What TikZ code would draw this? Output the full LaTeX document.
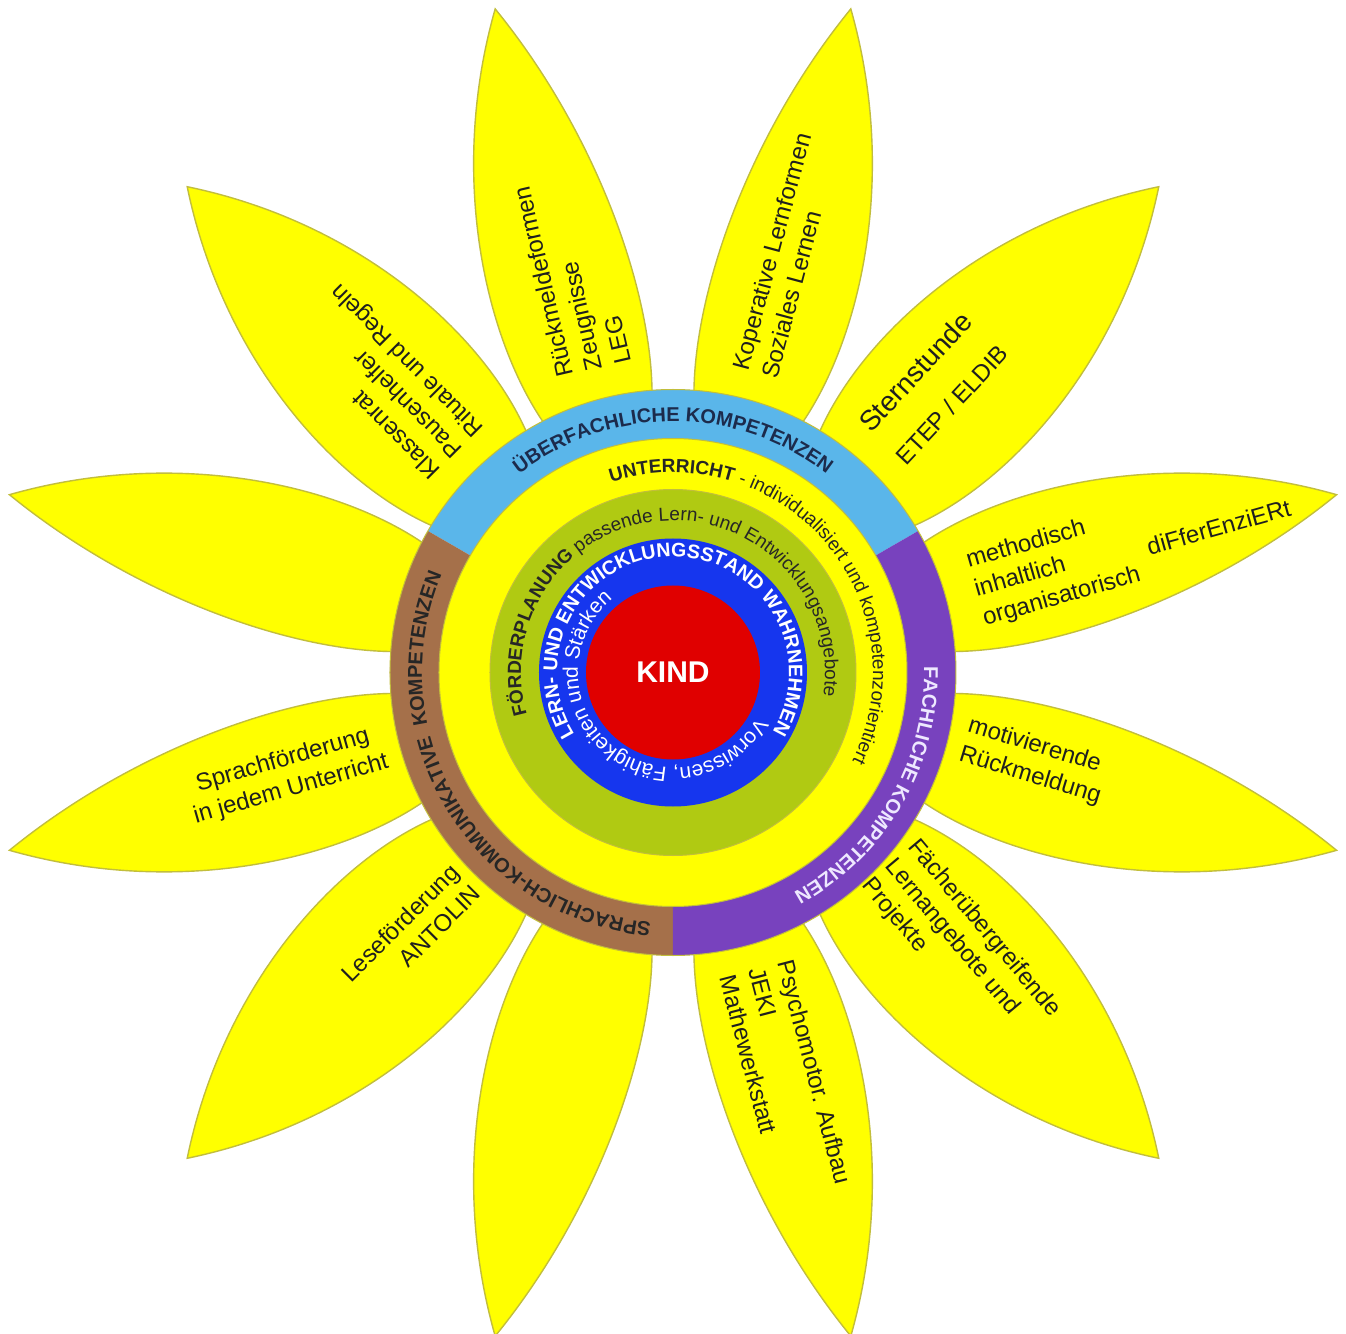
\documentclass[tikz,border=0pt]{standalone}
\usepackage{fontspec}
\setmainfont{Liberation Sans}
\usetikzlibrary{decorations.text}

\definecolor{petalyellow}{HTML}{FFFF00}
\definecolor{petalline}{HTML}{C2BE3C}
\definecolor{ringblue}{HTML}{5AB6EA}
\definecolor{ringbrown}{HTML}{A5704A}
\definecolor{ringpurple}{HTML}{7842BE}
\definecolor{plangreen}{HTML}{B0CA12}
\definecolor{standblue}{HTML}{1636EE}
\definecolor{kindred}{HTML}{E00000}
\definecolor{navytext}{HTML}{1C2B4C}
\definecolor{lighttext}{HTML}{EEE8FF}

\newcommand{\rfont}{\fontsize{10}{12}\selectfont}

\begin{document}
\begin{tikzpicture}[
  x=0.5pt, y=0.5pt,
  petal/.style={fill=petalyellow, draw=petalline, line width=0.7pt},
  band/.style={draw=petalline, line width=0.5pt},
  ptext/.style={font=\fontsize{12}{15}\selectfont, text=black!88, inner sep=0pt, align=left}
]
\useasboundingbox (-673,-661.5) rectangle (673,672.5);
\fill[white] (-673,-661.5) rectangle (673,672.5);

% petals, narrow side toward the axis gaps
\foreach \a/\s in {15/1,75/-1,105/1,165/-1,195/1,255/-1,285/1,345/-1}
  \filldraw[petal,rotate=\a,yscale=\s] (240,-40) .. controls (330,-80) and (520,-75) .. (687,0)
    .. controls (520,100) and (330,95) .. (240,45) -- cycle;
\foreach \a in {45,135,225,315}
  \filldraw[petal,rotate=\a] (240,-50) .. controls (330,-105) and (520,-110) .. (687,0)
    .. controls (520,110) and (330,105) .. (240,50) -- cycle;

% rings
\fill[ringblue] (0,0) -- (30:283) arc[start angle=30, end angle=150, radius=283] -- cycle;
\fill[ringbrown] (0,0) -- (150:283) arc[start angle=150, end angle=270, radius=283] -- cycle;
\fill[ringpurple] (0,0) -- (270:283) arc[start angle=270, end angle=390, radius=283] -- cycle;
\draw[band] (0,0) circle[radius=283];
\filldraw[band, fill=petalyellow] (0,0) circle[radius=234];
\filldraw[band, fill=plangreen] (0,0) circle[radius=183];
\fill[standblue] (0,0) circle[radius=134];
\fill[kindred] (0,0) circle[radius=87];

% ring texts
\path[decorate, decoration={text along path, text align=center, text color=navytext,
  text={|\rfont\bfseries|ÜBERFACHLICHE KOMPETENZEN}}]
  (150:251) arc[start angle=150, end angle=30, radius=251];
\path[decorate, decoration={text along path, text align=center, text color=lighttext,
  text={|\rfont\bfseries|FACHLICHE KOMPETENZEN}}]
  (30:251) arc[start angle=30, end angle=-90, radius=251];
\path[decorate, decoration={text along path, text align=left, text color=black!85,
  text={|\rfont\bfseries|SPRACHLICH-KOMMUNIKATIVE}}]
  (265:251) arc[start angle=265, end angle=150, radius=251];
\path[decorate, decoration={text along path, text align=right, text color=black!85,
  text={|\rfont\bfseries|KOMPETENZEN}}]
  (265:251) arc[start angle=265, end angle=157, radius=251];
\path[decorate, decoration={text along path, text align=left, text color=black!85,
  text={|\fontsize{9.5}{11}\selectfont\bfseries|UNTERRICHT |\fontsize{9.5}{11}\selectfont|- individualisiert und kompetenzorientiert}}]
  (108:200) arc[start angle=108, end angle=-60, radius=200];
\path[decorate, decoration={text along path, text align=left, text color=black!85,
  text={|\fontsize{9.5}{11}\selectfont\bfseries|FÖRDERPLANUNG |\fontsize{9.5}{11}\selectfont|passende Lern- und Entwicklungsangebote}}]
  (196:152) arc[start angle=196, end angle=-40, radius=152];
\path[decorate, decoration={text along path, text align=left, text color=white,
  text={|\fontsize{9.8}{11}\selectfont\bfseries|LERN- UND ENTWICKLUNGSSTAND WAHRNEHMEN}}]
  (212:116) arc[start angle=212, end angle=-40, radius=116];
\path[decorate, decoration={text along path, text align=left, text color=white,
  text={|\fontsize{10.5}{12}\selectfont|Vorwissen, Fähigkeiten und Stärken}}]
  (-28:95) arc[start angle=-28, end angle=-240, radius=95];

\node[font=\fontsize{15}{18}\selectfont\bfseries, text=white] (kind) at (0,0) {KIND};

% petal texts
\node[ptext, anchor=west, rotate=103] (rueck) at (-79,302) {Rückmeldeformen\\Zeugnisse\\LEG};
\node[ptext, anchor=west, rotate=75] (koop) at (81.5,298.6) {Koperative Lernformen\\Soziales Lernen};
\node[ptext, anchor=west, rotate=47] (stern) at (208,229) {{\fontsize{14}{15}\selectfont Sternstunde}\\[9pt]ETEP / ELDIB};
\node[ptext, anchor=west, rotate=16] (method) at (302,81.6) {methodisch\\inhaltlich\\organisatorisch};
\node[ptext, anchor=west, rotate=15.6] (diff) at (474,125.5) {diFferEnziERt};
\node[ptext, anchor=west, rotate=-17] (motiv) at (291,-67.4) {motivierende\\Rückmeldung};
\node[ptext, anchor=west, rotate=-50] (faecher) at (216,-189.8) {Fächerübergreifende\\Lernangebote und\\Projekte};
\node[ptext, anchor=west, rotate=-75.4] (psycho) at (84,-295.3) {Psychomotor. Aufbau\\JEKI\\Mathewerkstatt};
\node[ptext, anchor=east, align=right, rotate=45] (lese) at (-207.4,-206) {Leseförderung\\ANTOLIN};
\node[ptext, align=center, rotate=16] (sprach) at (-386,-102.5) {Sprachförderung\\in jedem Unterricht};
\node[ptext, anchor=west, rotate=135] (klasse) at (-214,219.4) {Klassenrat\\Pausenhelfer\\Rituale und Regeln};
\end{tikzpicture}
\end{document}
